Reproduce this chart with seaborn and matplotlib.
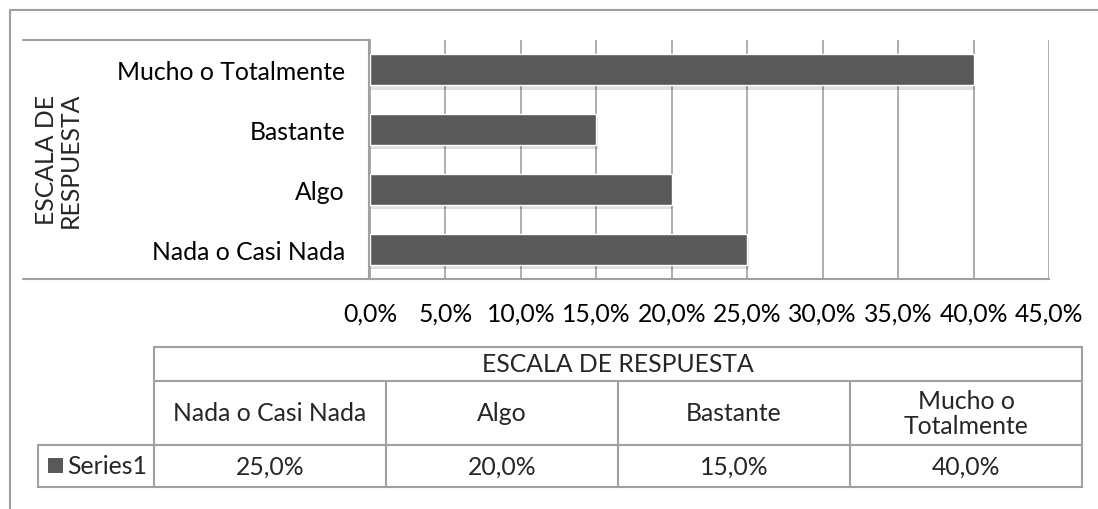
import matplotlib
matplotlib.use("Agg")
import matplotlib.pyplot as plt
import matplotlib.patheffects as pe
from matplotlib.lines import Line2D
from matplotlib.patches import Rectangle
from matplotlib.ticker import FuncFormatter
import seaborn as sns
import pandas as pd

# Datos
categorias = ["Nada o Casi Nada", "Algo", "Bastante", "Mucho o Totalmente"]
valores = [25.0, 20.0, 15.0, 40.0]
encabezados_tabla = ["Nada o Casi Nada", "Algo", "Bastante", "Mucho o\nTotalmente"]
serie = "Series1"
titulo_eje = "ESCALA DE\nRESPUESTA"
ticks_x = [0, 5, 10, 15, 20, 25, 30, 35, 40, 45]

df = pd.DataFrame({"categoria": categorias, "valor": valores})

sns.set_style("white")
plt.rcParams["font.family"] = ["Lato", "DejaVu Sans"]

W, H = 1098, 510
fig = plt.figure(figsize=(W / 100, H / 100), dpi=100)

def fx(px):
    return px / W

def fy(py):
    return 1 - py / H

gris = "#a0a0a0"
fs = 17.8

# Marco exterior
fig.add_artist(Line2D([fx(10), fx(1098)], [fy(11), fy(11)], color=gris, lw=1.5))
fig.add_artist(Line2D([fx(10), fx(10)], [fy(11), fy(510)], color=gris, lw=1.5))

# Ejes del grafico
ax = fig.add_axes([fx(370), fy(280), fx(1049) - fx(370), (280 - 41) / H])
orden = categorias[::-1]
sns.barplot(data=df, y="categoria", x="valor", order=orden, orient="h",
            color="#595959", width=0.52, saturation=1, ax=ax)
for p in ax.patches:
    p.set_path_effects([pe.SimplePatchShadow(offset=(1, -3), shadow_rgbFace="#000000", alpha=0.12),
                        pe.Normal()])
ax.set_xlim(0, 45)
ax.set_xticks(ticks_x)
ax.xaxis.set_major_formatter(FuncFormatter(lambda v, _: f"{v:.1f}%".replace(".", ",")))
ax.grid(axis="x", color=gris, lw=1.2)
ax.set_axisbelow(True)
for s in ["top", "right", "left"]:
    ax.spines[s].set_visible(False)
ax.spines["bottom"].set_color(gris)
ax.spines["bottom"].set_linewidth(1.5)
ax.tick_params(axis="x", length=0, pad=16, labelsize=fs, colors="black")
ax.tick_params(axis="y", length=0, pad=18, labelsize=fs, colors="black")
ax.set_xlabel("")
ax.set_ylabel("")

# Caja de etiquetas de categorias
fig.add_artist(Line2D([fx(23), fx(370)], [fy(41), fy(41)], color=gris, lw=1.5))
fig.add_artist(Line2D([fx(23), fx(370)], [fy(280), fy(280)], color=gris, lw=1.5))
fig.add_artist(Line2D([fx(369), fx(369)], [fy(41), fy(280)], color=gris, lw=1.5))
fig.text(fx(58), fy(160), titulo_eje, rotation=90, ha="center", va="center",
         fontsize=fs, linespacing=1.05)

# Tabla de datos
cols = [154, 386, 618, 850, 1082]
y_top, y_h, y_r, y_b = 348, 382, 446, 488
lineas = [
    ([154, 1082], [y_top, y_top]),
    ([154, 1082], [y_h, y_h]),
    ([38, 1082], [y_r, y_r]),
    ([38, 1082], [y_b, y_b]),
    ([38, 38], [y_r, y_b]),
    ([154, 154], [y_top, y_b]),
    ([1082, 1082], [y_top, y_b]),
]
for c in cols[1:-1]:
    lineas.append(([c, c], [y_h, y_b]))
for xs, ys in lineas:
    fig.add_artist(Line2D([fx(v) for v in xs], [fy(v) for v in ys], color=gris, lw=1.5))

fig.text(fx((154 + 1082) / 2), fy((y_top + y_h) / 2), "ESCALA DE RESPUESTA",
         ha="center", va="center", fontsize=fs)
for i, (enc, val) in enumerate(zip(encabezados_tabla, valores)):
    cx = (cols[i] + cols[i + 1]) / 2
    fig.text(fx(cx), fy((y_h + y_r) / 2), enc, ha="center", va="center",
             fontsize=fs, linespacing=1.15)
    fig.text(fx(cx), fy((y_r + y_b) / 2), f"{val:.1f}%".replace(".", ","),
             ha="center", va="center", fontsize=fs)

fig.add_artist(Rectangle((fx(48), fy(474)), fx(15), 15 / H, color="#595959", lw=0))
fig.text(fx(67), fy((y_r + y_b) / 2), serie, ha="left", va="center", fontsize=fs)

fig.savefig("out.png", dpi=100)
